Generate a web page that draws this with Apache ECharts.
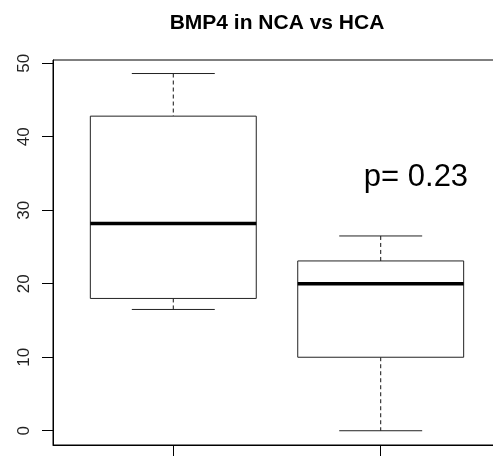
<!DOCTYPE html>
<html>
<head>
	<meta charset="UTF-8">
	<title>BMP4 in NCA vs HCA</title>
	<script src="https://cdn.jsdelivr.net/npm/echarts@6/dist/echarts.min.js"></script>
	<style>
		html, body { margin: 0; padding: 0; background: #fff; }
		#chart { width: 493px; height: 457px; }
	</style>
</head>
<body>
	<div id="chart"></div>
	<script>
		// group positions on the x axis (R boxplot: 1, 2)
		var groups = [1, 2];
		var lowerWhisker = [16.5, 0.0];
		var q1 = [18.0, 10.0];
		var medians = [28.2, 20.0];
		var q3 = [42.8, 23.1];
		var upperWhisker = [48.6, 26.5];
		var yTicks = [0, 10, 20, 30, 40, 50];
		var pText = 'p= 0.23';
		var pPos = [2.17, 34.4];

		var font = 'Liberation Sans, Arial, sans-serif';
		var boxData = groups.map(function (g, i) {
			return [g, lowerWhisker[i], q1[i], medians[i], q3[i], upperWhisker[i]];
		});

		function renderBox(params, api) {
			var x = api.value(0);
			var halfBox = api.size([0.8, 0])[0] / 2;
			var halfCap = api.size([0.4, 0])[0] / 2;
			var lo = api.coord([x, api.value(1)]);
			var b1 = api.coord([x, api.value(2)]);
			var md = api.coord([x, api.value(3)]);
			var b3 = api.coord([x, api.value(4)]);
			var hi = api.coord([x, api.value(5)]);
			var cx = lo[0];
			var solid = { stroke: '#222', lineWidth: 1 };
			var dashed = { stroke: '#111', lineWidth: 1, lineDash: [4, 3] };
			return {
				type: 'group',
				children: [
					{ type: 'line', shape: { x1: cx, y1: hi[1], x2: cx, y2: b3[1] }, style: dashed },
					{ type: 'line', shape: { x1: cx, y1: b1[1], x2: cx, y2: lo[1] }, style: dashed },
					{ type: 'line', shape: { x1: cx - halfCap, y1: hi[1], x2: cx + halfCap, y2: hi[1] }, style: solid },
					{ type: 'line', shape: { x1: cx - halfCap, y1: lo[1], x2: cx + halfCap, y2: lo[1] }, style: solid },
					{ type: 'rect', shape: { x: cx - halfBox, y: b3[1], width: halfBox * 2, height: b1[1] - b3[1] },
						style: { fill: '#fff', stroke: '#222', lineWidth: 1 } },
					{ type: 'line', shape: { x1: cx - halfBox, y1: md[1], x2: cx + halfBox, y2: md[1] },
						style: { stroke: '#000', lineWidth: 3.5 } }
				]
			};
		}

		var chart = echarts.init(document.getElementById('chart'));
		chart.setOption({
			animation: false,
			backgroundColor: '#fff',
			title: {
				text: 'BMP4 in NCA vs HCA',
				left: 272,
				top: 8,
				textAlign: 'center',
				textStyle: { fontFamily: font, fontSize: 21, fontWeight: 'bold', color: '#000' }
			},
			grid: {
				left: 53, top: 60, width: 448, height: 385,
				outerBoundsMode: 'none',
				containLabel: false,
				show: true, borderColor: '#000', borderWidth: 1, backgroundColor: 'transparent'
			},
			xAxis: {
				type: 'value',
				min: 0.42,
				max: 2.58,
				splitLine: { show: false },
				axisLine: { show: true, onZero: false, lineStyle: { color: '#000' } },
				axisTick: { show: true, customValues: groups, length: 11, lineStyle: { color: '#000' } },
				axisLabel: { show: false }
			},
			yAxis: {
				type: 'value',
				min: -1.94,
				max: 50.44,
				splitLine: { show: false },
				axisLine: { show: true, onZero: false, lineStyle: { color: '#000' } },
				axisTick: { show: true, customValues: yTicks, length: 11, lineStyle: { color: '#000' } },
				axisLabel: {
					customValues: yTicks,
					rotate: 90,
					margin: 20,
					fontFamily: font,
					fontSize: 17,
					color: '#222'
				}
			},
			series: [
				{
					type: 'custom',
					renderItem: renderBox,
					encode: { x: 0, y: [1, 2, 3, 4, 5] },
					data: boxData,
					z: 2
				},
				{
					type: 'custom',
					renderItem: function (params, api) {
						var p = api.coord([api.value(0), api.value(1)]);
						return {
							type: 'text',
							x: p[0],
							y: p[1],
							style: {
								text: pText,
								fontFamily: font,
								fontSize: 31,
								fill: '#000',
								align: 'center',
								verticalAlign: 'middle'
							}
						};
					},
					data: [pPos],
					z: 3
				}
			]
		});
	</script>
</body>
</html>
